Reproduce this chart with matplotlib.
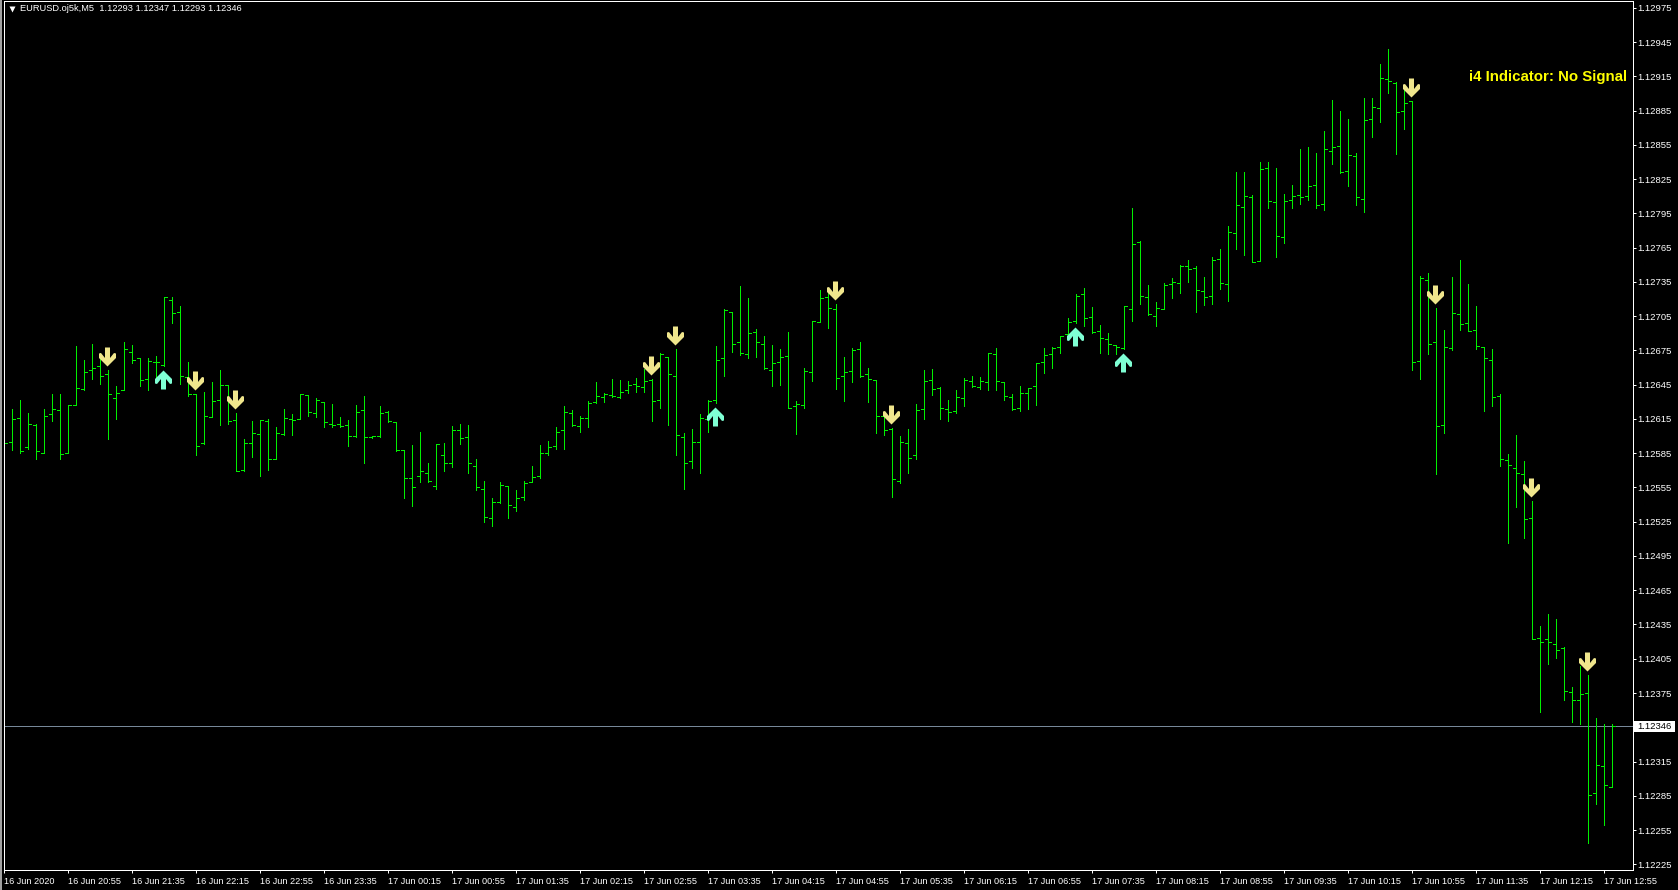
import numpy as np
import matplotlib
matplotlib.use('Agg')
import matplotlib.pyplot as plt
from matplotlib.path import Path

# EURUSD M5 bars, in points above 1.12000
opens = [596,595,616,590,610,585,619,623,585,627,
         641,658,661,654,633,640,674,668,650,665,
         662,719,709,652,637,594,617,632,645,614,
         570,594,602,613,580,602,615,615,636,620,
         630,611,611,610,600,623,599,600,621,612,
         588,563,565,568,556,583,576,605,599,574,
         554,528,542,556,538,547,560,565,585,591,
         605,620,609,616,630,634,636,634,640,646,
         643,649,632,669,653,599,578,595,615,632,
         668,709,682,672,691,681,658,665,670,626,
         627,656,700,722,711,653,657,676,654,649,
         618,606,561,594,583,624,649,642,624,622,
         633,648,643,647,672,647,634,625,638,644,
         665,672,678,689,701,724,704,692,685,680,
         677,711,770,722,705,711,733,734,749,747,
         727,723,755,733,778,801,809,753,835,805,
         774,807,811,810,820,803,850,854,832,845,
         808,878,887,913,909,885,893,666,737,682,
         610,677,707,699,693,678,667,635,579,572,
         567,528,423,422,418,414,376,369,375,287,
         311,293]
highs = [615,624,632,620,611,624,637,637,627,679,
         667,681,673,658,644,682,680,668,668,670,
         722,722,714,665,637,639,647,658,645,620,
         597,613,614,615,608,624,619,637,636,633,
         630,628,617,614,627,635,600,626,622,612,
         588,592,604,576,593,594,609,611,610,580,
         561,546,560,556,553,561,574,592,596,608,
         626,623,618,631,647,638,650,649,648,651,
         659,650,673,669,676,603,606,619,632,679,
         711,709,731,721,694,688,680,676,691,631,
         660,701,728,725,716,669,677,682,660,649,
         621,607,600,606,628,658,659,643,632,640,
         651,653,652,673,677,647,637,644,642,664,
         677,678,688,703,724,730,713,697,690,680,
         714,800,771,732,717,734,738,750,754,749,
         739,757,764,784,831,831,811,840,840,835,
         812,820,851,853,848,867,894,885,878,848,
         896,896,926,939,910,903,893,740,743,712,
         693,739,754,733,714,678,676,637,584,601,
         578,543,434,444,440,415,380,399,391,353,
         348,348]
lows = [583,588,585,589,580,585,613,580,585,627,
        640,650,646,597,615,640,664,644,640,651,
        661,699,646,635,583,593,617,610,611,569,
        569,582,565,570,580,601,601,615,618,617,
        608,608,608,591,599,576,598,599,612,587,
        546,539,560,560,554,569,573,593,568,553,
        525,521,541,528,534,544,560,563,583,589,
        589,609,604,608,629,630,634,633,638,639,
        639,613,625,610,583,554,572,568,604,629,
        653,674,671,668,669,659,644,645,625,602,
        625,648,700,695,641,631,647,652,630,603,
        601,547,559,568,580,615,636,615,613,620,
        626,643,641,640,640,632,623,622,624,627,
        655,660,673,687,699,696,690,673,672,672,
        676,701,716,706,696,711,721,725,735,709,
        715,716,729,718,764,759,752,753,800,757,
        769,800,803,807,800,798,838,830,819,802,
        796,862,875,900,847,869,658,650,672,567,
        603,675,693,692,676,622,626,574,506,538,
        511,422,358,400,406,369,350,348,244,278,
        259,293]
closes = [594,615,587,611,587,618,624,584,627,642,
          656,660,653,637,638,676,667,649,666,665,
          722,708,653,637,591,618,631,645,613,569,
          594,603,614,580,603,616,614,637,621,632,
          612,610,609,600,621,599,600,620,613,588,
          563,555,569,561,593,576,605,598,576,555,
          529,542,557,540,546,559,564,585,590,604,
          621,610,616,629,635,637,635,639,645,644,
          648,631,672,654,601,576,595,616,631,667,
          710,681,673,690,682,660,664,669,625,628,
          657,701,721,712,651,656,675,653,650,618,
          605,562,595,581,623,648,641,625,621,634,
          649,644,648,673,648,635,624,638,642,664,
          671,677,688,700,723,703,691,686,681,678,
          714,768,723,707,712,732,735,749,746,728,
          722,754,734,779,802,810,752,834,806,775,
          806,810,809,819,802,851,853,831,846,809,
          877,888,914,911,884,892,665,738,681,609,
          678,708,698,692,679,668,634,580,575,568,
          527,422,420,420,413,377,369,374,286,312,
          294,346]

# bars with signal arrows
down_bars = [13, 24, 29, 81, 84, 104, 111, 176, 179, 191, 198]
up_bars = [20, 89, 134, 140]

time_labels = ['16 Jun 2020', '16 Jun 20:55', '16 Jun 21:35', '16 Jun 22:15', '16 Jun 22:55',
               '16 Jun 23:35', '17 Jun 00:15', '17 Jun 00:55', '17 Jun 01:35', '17 Jun 02:15',
               '17 Jun 02:55', '17 Jun 03:35', '17 Jun 04:15', '17 Jun 04:55', '17 Jun 05:35',
               '17 Jun 06:15', '17 Jun 06:55', '17 Jun 07:35', '17 Jun 08:15', '17 Jun 08:55',
               '17 Jun 09:35', '17 Jun 10:15', '17 Jun 10:55', '17 Jun 11:35', '17 Jun 12:15',
               '17 Jun 12:55']
price_ticks = [1.12975, 1.12945, 1.12915, 1.12885, 1.12855, 1.12825, 1.12795, 1.12765, 1.12735,
               1.12705, 1.12675, 1.12645, 1.12615, 1.12585, 1.12555, 1.12525, 1.12495, 1.12465,
               1.12435, 1.12405, 1.12375, 1.12345, 1.12315, 1.12285, 1.12255, 1.12225]
last_price = 1.12346

W, H = 1678, 890
DPI = 100
FONT = 'Liberation Sans'
GREEN = '#00F000'

def to_price(points):
    return 1.12 + np.array(points) / 1e5

o, h, l, c = to_price(opens), to_price(highs), to_price(lows), to_price(closes)
x = np.arange(len(o))

fig = plt.figure(figsize=(W / DPI, H / DPI), dpi=DPI, facecolor='black')
# chart frame, placed in pixels
left, right, top, bottom = 4, 1632.5, 1, 870
ax = fig.add_axes([left / W, 1 - bottom / H, (right - left) / W, (bottom - top) / H], facecolor='black')
ax.set_xlim((left - 4) / 8, (right - 4) / 8)
ax.set_ylim(1.12220, 1.12981)

ax.axhline(last_price, color='#778899', lw=0.72, zorder=1)

# OHLC bars
line_kw = dict(colors=GREEN, linewidth=0.72, antialiased=False, zorder=2)
ax.vlines(x, l, h, **line_kw)
ax.hlines(o, x - 0.375, x, **line_kw)
ax.hlines(c, x, x + 0.375, **line_kw)

# signal arrows, marker vertices are pixels from the bar end
gap = 4
down_shape = [(-1, gap), (-9.5, gap + 8.5), (-9.5, gap + 13), (-7.5, gap + 13.5), (-3.5, gap + 8.5),
              (-3.5, gap + 19), (1.5, gap + 19), (1.5, gap + 8.5), (5.5, gap + 13.5), (7.5, gap + 13),
              (7.5, gap + 8.5), (-1, gap)]
up_shape = [(vx, -vy) for vx, vy in down_shape]
marker_size = 2 * (gap + 19) * 72 / DPI
ax.plot(x[down_bars], h[down_bars], ls='none', marker=Path(down_shape), ms=marker_size,
        mfc='#F0E68C', mec='none', zorder=3)
ax.plot(x[up_bars], l[up_bars], ls='none', marker=Path(up_shape), ms=marker_size,
        mfc='#7FFFD4', mec='none', zorder=3)

for name, spine in ax.spines.items():
    spine.set_color('white')
    spine.set_linewidth(0.72)

ax.yaxis.tick_right()
ax.set_yticks(price_ticks)
ax.set_yticklabels(['%.5f' % p for p in price_ticks], fontname=FONT, fontsize=6.8, color='white')
ax.set_xticks(x[::8])
ax.set_xticklabels(time_labels, fontname=FONT, fontsize=6.6, color='white', ha='left')
ax.tick_params(axis='y', length=2.2, width=0.72, color='white', pad=1.6)
ax.tick_params(axis='x', length=2.2, width=0.72, color='white', pad=2.5)

# last price box on the scale
fig.add_artist(plt.Rectangle((1634 / W, 1 - 732 / H), 41 / W, 11 / H, transform=fig.transFigure,
                             facecolor='white', edgecolor='none', zorder=5))
fig.text(1654.5 / W, 1 - 726.5 / H, '%.5f' % last_price, fontname=FONT, fontsize=6.8, color='black',
         ha='center', va='center', zorder=6)
# left window edge
fig.add_artist(plt.Rectangle((0, 0), 2 / W, 1, transform=fig.transFigure,
                             facecolor='#A0A0A0', edgecolor='none'))

# chart header
ax.plot([0.005], [0.991], transform=ax.transAxes, marker='v', ms=4.5, color='white', mec='none', clip_on=False)
fig.text(20 / W, 1 - 8.5 / H, 'EURUSD.oj5k,M5  1.12293 1.12347 1.12293 1.12346', fontname=FONT,
         fontsize=6.7, color='white', ha='left', va='center')
fig.text(1627 / W, 1 - 77 / H, 'i4 Indicator: No Signal', fontname=FONT, fontweight='bold',
         fontsize=10.8, color='#FFFF00', ha='right', va='center')

fig.savefig('out.png', dpi=DPI, facecolor='black')
